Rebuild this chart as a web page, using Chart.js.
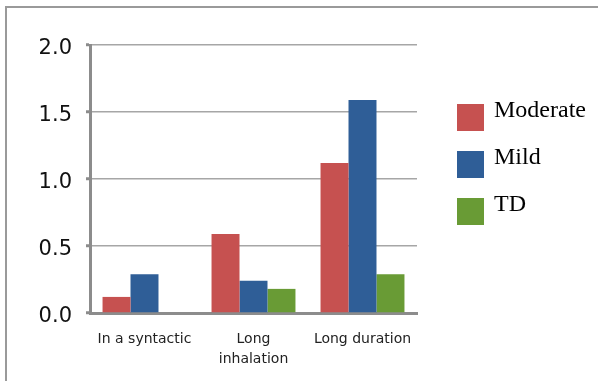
<!DOCTYPE html>
<html>
<head>
<meta charset="utf-8">
<script src="https://cdn.jsdelivr.net/npm/chart.js@4.4.1/dist/chart.umd.min.js"></script>
<style>
  html, body { margin: 0; padding: 0; background: #fff; }
  #wrap { position: relative; width: 598px; height: 381px; overflow: hidden; }
  #frame { position: absolute; left: 5px; top: 6px; right: -4px; bottom: -4px;
           border-top: 2px solid #9a9a9a; border-left: 2px solid #9a9a9a; }
  #chart { position: absolute; left: 0; top: 0; }
  #legend { position: absolute; left: 457px; top: 98px; font-family: "Liberation Serif", serif; font-size: 24px; color: #000; }
  .item { position: relative; height: 47px; }
  .box { position: absolute; left: 0; top: 6px; width: 27px; height: 27px; }
  .lbl { position: absolute; left: 37px; top: -3px; line-height: 28px; white-space: nowrap; }
</style>
</head>
<body>
<div id="wrap">
  <div id="frame"></div>
  <canvas id="chart" width="598" height="381"></canvas>
  <div id="legend"></div>
</div>
<script>
// data
const categories = ["In a syntactic", ["Long", "inhalation"], "Long duration"];
const seriesNames = ["Moderate", "Mild", "TD"];
const moderate = [0.12, 0.59, 1.12];
const mild = [0.29, 0.24, 1.59];
const td = [0, 0.18, 0.29];
const yTicks = [0, 0.5, 1.0, 1.5, 2.0];

const colors = ["#C65150", "#2F5E97", "#699B35"];

const datasets = [moderate, mild, td].map((vals, i) => ({
  label: seriesNames[i],
  data: vals,
  backgroundColor: colors[i],
  borderWidth: 0,
  categoryPercentage: 0.77,
  barPercentage: 1.0,
}));

new Chart(document.getElementById("chart"), {
  type: "bar",
  data: { labels: categories, datasets: datasets },
  options: {
    responsive: false,
    animation: false,
    layout: { padding: { left: 0, right: 181, top: 45, bottom: 0 } },
    plugins: { legend: { display: false }, tooltip: { enabled: false } },
    scales: {
      x: {
        grid: { display: false },
        border: { display: true, color: "#8c8c8c", width: 3 },
        ticks: {
          color: "#222",
          font: { family: "'DejaVu Sans'", size: 14, lineHeight: 1.45 },
          padding: 8,
          maxRotation: 0,
          autoSkip: false,
        },
        afterFit: (s) => { s.height = 68; },
      },
      y: {
        min: 0,
        max: 2,
        afterBuildTicks: (s) => { s.ticks = yTicks.map((v) => ({ value: v })); },
        grid: { color: "#a6a6a6", lineWidth: 1.5, tickLength: 4, tickColor: "#8c8c8c", tickWidth: 3 },
        border: { display: true, color: "#8c8c8c", width: 3 },
        ticks: {
          color: "#111",
          font: { family: "'DejaVu Sans'", size: 21 },
          padding: 14,
          labelOffset: 4,
          callback: (v) => Number(v).toFixed(1),
        },
        afterFit: (s) => { s.width = 90; },
      },
    },
  },
});

// legend built from the series
const legend = document.getElementById("legend");
seriesNames.forEach((name, i) => {
  const item = document.createElement("div");
  item.className = "item";
  item.innerHTML = `<div class="box" style="background:${colors[i]}"></div><div class="lbl">${name}</div>`;
  legend.appendChild(item);
});
</script>
</body>
</html>
